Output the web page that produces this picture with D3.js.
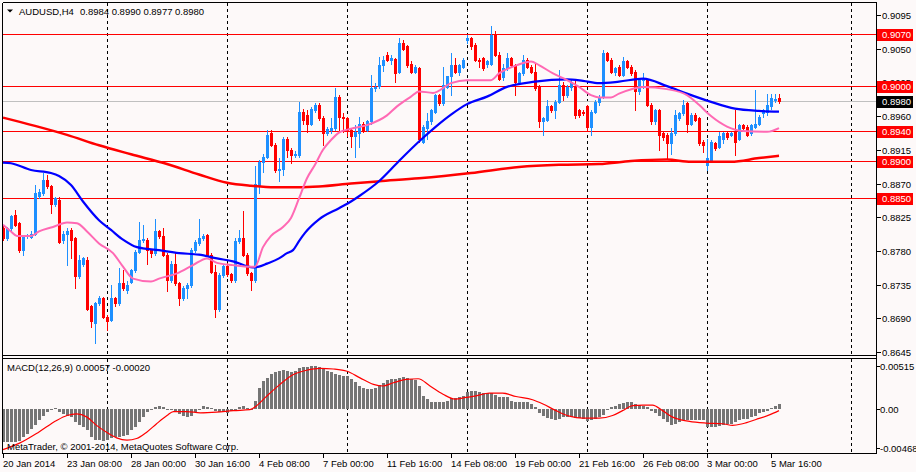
<!DOCTYPE html>
<html><head><meta charset="utf-8">
<script src="https://cdn.jsdelivr.net/npm/d3@7"></script>
<style>
html,body{margin:0;padding:0;background:#fff;}
svg{display:block;}
text{font-family:"Liberation Sans",Arial,sans-serif;font-size:9.5px;fill:#000;}
</style></head><body>
<svg id="c" width="916" height="472"></svg>
<script>
// ---- data ----
const symbolName = "AUDUSD,H4";
const headerValues = "0.8984 0.8990 0.8977 0.8980";
const open=[0.8811,0.8797,0.8810,0.8828,0.8817,0.8781,0.8800,0.8799,0.8803,0.8853,
0.8857,0.8875,0.8866,0.8843,0.8848,0.8794,0.8803,0.8808,0.8797,0.8746,
0.8763,0.8768,0.8706,0.8684,0.8710,0.8717,0.8692,0.8688,0.8717,0.8710,
0.8737,0.8728,0.8739,0.8754,0.8779,0.8795,0.8795,0.8781,0.8777,0.8806,
0.8800,0.8775,0.8741,0.8763,0.8737,0.8717,0.8730,0.8734,0.8781,0.8790,
0.8797,0.8801,0.8775,0.8752,0.8703,0.8748,0.8760,0.8749,0.8741,0.8793,
0.8797,0.8775,0.8750,0.8741,0.8868,0.8899,0.8906,0.8937,0.8922,0.8888,
0.8890,0.8930,0.8915,0.8908,0.8908,0.8966,0.8962,0.8950,0.8968,0.8975,
0.8957,0.8938,0.8941,0.8944,0.8986,0.8959,0.8957,0.8941,0.8933,0.8937,
0.8950,0.8942,0.8953,0.8997,0.9000,0.9028,0.9042,0.9035,0.9036,0.9019,
0.9057,0.9053,0.9030,0.9019,0.9024,0.8926,0.8944,0.8953,0.8966,0.8988,
0.8977,0.8999,0.9013,0.9028,0.9019,0.9026,0.9062,0.9064,0.9055,0.9035,
0.9037,0.9030,0.9030,0.9068,0.9042,0.9012,0.9024,0.9037,0.9028,0.9006,
0.9017,0.9035,0.9026,0.9019,0.8999,0.8953,0.8955,0.8973,0.8968,0.8979,
0.9002,0.8988,0.8999,0.9000,0.8968,0.8966,0.8973,0.8946,0.8966,0.8979,
0.8986,0.9044,0.9035,0.9019,0.9026,0.9015,0.9033,0.9026,0.9019,0.8993,
0.9008,0.9008,0.8975,0.8953,0.8968,0.8937,0.8935,0.8924,0.8937,0.8957,
0.8964,0.8977,0.8950,0.8962,0.8957,0.8926,0.8895,0.8901,0.8924,0.8919,
0.8930,0.8937,0.8935,0.8939,0.8930,0.8948,0.8946,0.8937,0.8946,0.8950,
0.8964,0.8966,0.8973,0.8982,0.8984];
const high=[0.8815,0.8812,0.8828,0.8835,0.8819,0.8801,0.8803,0.8806,0.8868,0.8862,
0.8884,0.8881,0.8868,0.8852,0.8852,0.8806,0.8810,0.8810,0.8799,0.8775,
0.8772,0.8772,0.8708,0.8712,0.8720,0.8719,0.8694,0.8734,0.8719,0.8757,
0.8754,0.8740,0.8756,0.8781,0.8819,0.8815,0.8797,0.8783,0.8823,0.8808,
0.8810,0.8777,0.8766,0.8777,0.8739,0.8733,0.8737,0.8784,0.8794,0.8822,
0.8803,0.8803,0.8777,0.8761,0.8750,0.8762,0.8764,0.8751,0.8797,0.8808,
0.8833,0.8777,0.8752,0.8893,0.8902,0.8910,0.8942,0.8942,0.8924,0.8904,
0.8932,0.8932,0.8917,0.8913,0.8979,0.8970,0.8968,0.8972,0.8977,0.8977,
0.8960,0.8946,0.8957,0.8997,0.8988,0.8964,0.8959,0.8944,0.8948,0.8959,
0.8952,0.8955,0.9015,0.9004,0.9039,0.9040,0.9046,0.9042,0.9038,0.9064,
0.9062,0.9055,0.9033,0.9028,0.9026,0.8948,0.8964,0.8970,0.8990,0.8990,
0.9026,0.9013,0.9044,0.9037,0.9030,0.9037,0.9068,0.9066,0.9057,0.9037,
0.9039,0.9035,0.9080,0.9073,0.9046,0.9030,0.9044,0.9039,0.9030,0.9019,
0.9042,0.9037,0.9028,0.9030,0.9002,0.8959,0.8981,0.8975,0.8981,0.9022,
0.9006,0.9002,0.9008,0.9008,0.8970,0.8968,0.8975,0.8968,0.8981,0.8988,
0.9048,0.9046,0.9037,0.9026,0.9028,0.9039,0.9035,0.9028,0.9021,0.9010,
0.9017,0.9010,0.8977,0.8970,0.8970,0.8939,0.8937,0.8944,0.8968,0.8966,
0.8981,0.8979,0.8964,0.8964,0.8959,0.8928,0.8930,0.8928,0.8926,0.8939,
0.8939,0.8939,0.8939,0.8968,0.8950,0.8950,0.8948,0.8950,0.8995,0.8962,
0.8970,0.8990,0.8990,0.8990,0.8990];
const low=[0.8794,0.8795,0.8808,0.8813,0.8779,0.8775,0.8797,0.8797,0.8801,0.8850,
0.8855,0.8864,0.8831,0.8840,0.8790,0.8790,0.8761,0.8770,0.8730,0.8744,
0.8760,0.8701,0.8679,0.8657,0.8708,0.8690,0.8674,0.8686,0.8706,0.8708,
0.8728,0.8724,0.8737,0.8752,0.8777,0.8792,0.8763,0.8772,0.8775,0.8797,
0.8773,0.8726,0.8739,0.8735,0.8708,0.8714,0.8717,0.8732,0.8779,0.8788,
0.8795,0.8773,0.8750,0.8692,0.8700,0.8745,0.8746,0.8738,0.8739,0.8790,
0.8773,0.8748,0.8728,0.8738,0.8857,0.8886,0.8904,0.8920,0.8886,0.8873,
0.8882,0.8906,0.8897,0.8905,0.8906,0.8950,0.8939,0.8948,0.8965,0.8955,
0.8922,0.8935,0.8938,0.8942,0.8941,0.8939,0.8933,0.8919,0.8906,0.8919,
0.8939,0.8940,0.8950,0.8993,0.8997,0.9020,0.9033,0.9030,0.9006,0.9017,
0.9048,0.9026,0.9017,0.9017,0.8926,0.8924,0.8930,0.8950,0.8964,0.8975,
0.8975,0.8997,0.8988,0.9017,0.9015,0.9024,0.9058,0.9050,0.9033,0.9026,
0.9022,0.9026,0.9028,0.9040,0.9008,0.9008,0.9022,0.9026,0.8988,0.9004,
0.9015,0.9024,0.9017,0.8995,0.8946,0.8935,0.8953,0.8966,0.8957,0.8977,
0.8981,0.8986,0.8995,0.8957,0.8959,0.8962,0.8941,0.8935,0.8964,0.8975,
0.8984,0.9033,0.9017,0.9015,0.9013,0.9013,0.9024,0.9015,0.8968,0.8990,
0.8997,0.8973,0.8950,0.8950,0.8915,0.8928,0.8904,0.8910,0.8935,0.8955,
0.8962,0.8939,0.8948,0.8953,0.8921,0.8912,0.8888,0.8899,0.8915,0.8917,
0.8924,0.8930,0.8933,0.8908,0.8928,0.8941,0.8933,0.8935,0.8944,0.8948,
0.8959,0.8962,0.8970,0.8979,0.8977];
const close=[0.8797,0.8810,0.8826,0.8815,0.8781,0.8799,0.8801,0.8803,0.8857,0.8859,
0.8875,0.8866,0.8843,0.8850,0.8792,0.8803,0.8807,0.8795,0.8746,0.8768,
0.8770,0.8703,0.8686,0.8710,0.8717,0.8692,0.8686,0.8717,0.8710,0.8737,
0.8730,0.8735,0.8754,0.8779,0.8795,0.8796,0.8781,0.8777,0.8806,0.8800,
0.8775,0.8741,0.8763,0.8737,0.8717,0.8730,0.8734,0.8781,0.8792,0.8797,
0.8800,0.8775,0.8752,0.8703,0.8748,0.8760,0.8749,0.8741,0.8793,0.8797,
0.8775,0.8750,0.8741,0.8870,0.8899,0.8906,0.8935,0.8922,0.8888,0.8890,
0.8930,0.8915,0.8908,0.8909,0.8966,0.8955,0.8950,0.8970,0.8975,0.8957,
0.8938,0.8943,0.8944,0.8986,0.8959,0.8957,0.8940,0.8933,0.8939,0.8950,
0.8942,0.8953,0.8997,0.8999,0.9028,0.9035,0.9035,0.9038,0.9017,0.9057,
0.9050,0.9028,0.9019,0.9026,0.8930,0.8946,0.8953,0.8968,0.8988,0.8977,
0.9002,0.9013,0.9028,0.9019,0.9028,0.9035,0.9064,0.9053,0.9035,0.9033,
0.9024,0.9033,0.9068,0.9042,0.9010,0.9024,0.9037,0.9028,0.9006,0.9017,
0.9035,0.9026,0.9019,0.8997,0.8953,0.8957,0.8973,0.8968,0.8979,0.9002,
0.8988,0.8999,0.9006,0.8962,0.8962,0.8964,0.8946,0.8966,0.8979,0.8986,
0.9044,0.9035,0.9019,0.9024,0.9015,0.9033,0.9026,0.9017,0.8993,0.9008,
0.9009,0.8975,0.8953,0.8968,0.8935,0.8932,0.8924,0.8937,0.8962,0.8964,
0.8975,0.8950,0.8962,0.8955,0.8924,0.8921,0.8904,0.8926,0.8917,0.8933,
0.8937,0.8932,0.8937,0.8926,0.8948,0.8944,0.8935,0.8948,0.8950,0.8959,
0.8968,0.8975,0.8984,0.8983,0.8980];
// moving averages read at selected bars: [bar index, price]
const maSlow=[[0,0.8958],[8,0.8947],[16,0.8935],[24,0.8921],[32,0.8909],[41,0.8896],[49,0.8882],[56,0.8871],[62,0.8867],[68,0.8865],[74,0.8865],[79,0.8866],[87,0.8870],[94,0.8873],[104,0.8877],[117,0.8884],[129,0.8892],[139,0.8895],[149,0.8896],[157,0.8900],[166,0.8902],[172,0.8899],[182,0.8899],[189,0.8904],[194,0.8907]];
const maMid=[[0,0.8898],[2,0.8897],[7,0.8888],[12,0.8884],[14,0.8880],[17,0.8868],[20,0.8846],[24,0.8821],[27,0.8808],[30,0.8795],[33.5,0.8785],[39,0.8781],[44,0.8777],[49,0.8775],[53.5,0.8770],[57.5,0.8766],[62.5,0.8758],[64,0.8759],[66,0.8763],[69,0.8770],[71,0.8777],[72.5,0.8781],[74,0.8793],[75.5,0.8804],[79,0.8822],[84,0.8837],[87,0.8846],[89,0.8853],[94,0.8873],[99,0.8900],[104,0.8926],[108,0.8945],[112,0.8962],[116,0.8976],[121,0.8986],[126,0.8999],[133,0.9006],[141,0.9009],[145,0.9007],[149,0.9004],[154,0.9006],[160,0.9010],[166,0.9000],[171,0.8990],[177,0.8979],[183,0.8970],[189,0.8967],[194,0.8966]];
const maFast=[[0,0.8815],[2,0.8806],[3.5,0.8800],[7,0.8800],[9,0.8806],[12.5,0.8812],[16,0.8818],[18.5,0.8817],[21,0.8806],[24,0.8790],[27.5,0.8777],[30,0.8759],[32.5,0.8743],[37,0.8739],[39,0.8743],[43.5,0.8750],[47.5,0.8761],[51,0.8770],[53.5,0.8764],[57.5,0.8761],[62,0.8759],[63,0.8759],[65,0.8785],[67,0.8800],[70,0.8812],[72,0.8824],[74,0.8850],[76,0.8877],[78,0.8895],[80,0.8915],[82,0.8928],[84,0.8938],[87,0.8943],[91,0.8948],[96,0.8961],[98.5,0.8973],[102,0.8986],[104,0.8993],[107.5,0.8991],[112,0.9004],[116,0.9008],[122,0.9008],[124,0.9017],[128.5,0.9028],[132,0.9033],[134,0.9028],[137.5,0.9017],[141,0.9008],[144,0.8999],[147,0.8988],[149,0.8985],[152,0.8985],[154,0.8990],[160,0.8999],[166,0.8996],[171,0.8988],[174,0.8975],[177,0.8960],[181,0.8946],[185,0.8940],[191,0.8939],[194,0.8944]];
// MACD(12,26,9) main values per bar
const macdMain=[-0.00401,-0.00401,-0.00401,-0.00401,-0.00385,-0.00334,-0.00295,-0.00244,-0.00197,-0.00138,
-0.00079,-0.00031,-0.00008,0.00008,-0.00039,-0.00059,-0.00079,-0.00098,-0.00157,-0.00197,
-0.00216,-0.00255,-0.00334,-0.00373,-0.00373,-0.00385,-0.00373,-0.00346,-0.00334,-0.00334,
-0.00326,-0.00314,-0.00255,-0.00216,-0.00157,-0.00098,-0.00039,-0.00008,0.00020,0.00031,
0.00020,0.00000,-0.00008,-0.00031,-0.00059,-0.00079,-0.00098,-0.00079,-0.00031,-0.00008,
0.00031,0.00028,0.00008,-0.00020,-0.00039,-0.00039,-0.00047,-0.00020,0.00000,0.00020,
0.00031,0.00008,0.00000,0.00098,0.00255,0.00334,0.00373,0.00424,0.00440,0.00452,
0.00464,0.00452,0.00440,0.00452,0.00491,0.00499,0.00503,0.00511,0.00519,0.00503,
0.00479,0.00452,0.00440,0.00424,0.00413,0.00401,0.00393,0.00362,0.00322,0.00275,
0.00255,0.00236,0.00236,0.00255,0.00283,0.00314,0.00346,0.00362,0.00362,0.00373,
0.00385,0.00373,0.00362,0.00346,0.00275,0.00157,0.00118,0.00086,0.00079,0.00079,
0.00079,0.00098,0.00126,0.00126,0.00138,0.00157,0.00204,0.00216,0.00216,0.00204,
0.00189,0.00189,0.00189,0.00165,0.00149,0.00138,0.00138,0.00098,0.00079,0.00079,
0.00079,0.00079,0.00059,0.00020,-0.00047,-0.00086,-0.00110,-0.00126,-0.00138,-0.00118,
-0.00098,-0.00098,-0.00098,-0.00110,-0.00110,-0.00118,-0.00149,-0.00138,-0.00118,-0.00098,
-0.00071,-0.00008,0.00020,0.00039,0.00059,0.00071,0.00086,0.00086,0.00059,0.00047,
0.00039,0.00020,-0.00020,-0.00047,-0.00079,-0.00126,-0.00157,-0.00189,-0.00177,-0.00157,
-0.00138,-0.00138,-0.00138,-0.00138,-0.00138,-0.00138,-0.00216,-0.00216,-0.00216,-0.00208,
-0.00197,-0.00177,-0.00177,-0.00157,-0.00138,-0.00126,-0.00118,-0.00098,-0.00079,-0.00047,
-0.00031,-0.00020,0.00008,0.00039,0.00057];
// MACD signal read at selected bars: [bar index, value]
const macdSignal=[[0,-0.00488],[4,-0.00413],[9,-0.00275],[13.4,-0.00138],[16,-0.00079],[18.4,-0.00059],[21,-0.00098],[23.4,-0.00197],[26,-0.00283],[28.4,-0.00346],[31,-0.00373],[33.4,-0.00354],[36,-0.00275],[38.4,-0.00177],[41,-0.00079],[42.6,-0.00031],[46,-0.00031],[49.3,-0.00047],[53.4,-0.00039],[57.6,-0.00020],[61.75,-0.00008],[63.4,0.00039],[66,0.00157],[69.25,0.00295],[72.6,0.00413],[75.9,0.00464],[79.25,0.00487],[82.6,0.00479],[86,0.00452],[89.25,0.00373],[92.6,0.00295],[95,0.00275],[97.6,0.00314],[100.9,0.00354],[103.8,0.00362],[106.75,0.00275],[110,0.00177],[113,0.00118],[115.75,0.00138],[118.25,0.00157],[121.6,0.00189],[124.9,0.00189],[128.25,0.00149],[132.4,0.00110],[135,0.00059],[138.25,-0.00020],[141.6,-0.00086],[144.9,-0.00110],[149.1,-0.00110],[152.4,-0.00079],[154.9,-0.00020],[157.4,0.00039],[159.9,0.00047],[162.4,0.00047],[164.9,-0.00020],[167.4,-0.00098],[171.6,-0.00149],[175.75,-0.00169],[179.9,-0.00177],[182.4,-0.00197],[184.9,-0.00177],[188.25,-0.00126],[191.6,-0.00071],[194,-0.00020]];
const macdTitle="MACD(12,26,9) 0.00057 -0.00020";
const copyright="MetaTrader, \u00a9 2001-2014, MetaQuotes Software Corp.";
const priceTicks=[0.9095,0.9050,0.9005,0.8960,0.8915,0.8870,0.8825,0.8780,0.8735,0.8690,0.8645];
const levelLines=[0.9070,0.9000,0.8940,0.8900,0.8850];
const bidPrice=0.8980;
const macdTicks=[0.00515,0,-0.00468];
const macdTickLabels=["0.00515","0.00","-0.00468"];
const timeLabelIdx=[0,16,32,48,64,80,96,112,128,144,160,176,192];
const timeLabels=["20 Jan 2014","23 Jan 08:00","28 Jan 00:00","30 Jan 16:00","4 Feb 08:00","7 Feb 00:00","11 Feb 16:00","14 Feb 08:00","19 Feb 00:00","21 Feb 16:00","26 Feb 08:00","3 Mar 00:00","5 Mar 16:00"];
const gridIdx=[26,56,86,116,146,176,212];

// ---- drawing ----
const svg=d3.select("#c");
const W=916,H=472;
const L=2.5,R=876.5,T=2.5,MB=355.5,MT=358.5,BB=453.5;
svg.append("rect").attr("width",W).attr("height",H).attr("fill","#fdf9f9");

const x=d3.scaleLinear().domain([0,218]).range([3,875]);
const y=d3.scaleLinear().domain([0.8645,0.9095]).range([352,15]);
const ym=d3.scaleLinear().domain([-0.00468,0.00515]).range([448,366]);
const px=i=>Math.round(x(i));

const crisp=svg.append("g").attr("shape-rendering","crispEdges");

// grid (dashed verticals)
gridIdx.forEach(g=>{
  const gx=px(g)+0.5;
  crisp.append("line").attr("x1",gx).attr("x2",gx).attr("y1",T).attr("y2",MB)
    .attr("stroke","#000").attr("stroke-dasharray","3,3");
  crisp.append("line").attr("x1",gx).attr("x2",gx).attr("y1",MT).attr("y2",BB)
    .attr("stroke","#000").attr("stroke-dasharray","3,3");
});

// bid line + level lines
crisp.append("line").attr("x1",L).attr("x2",R).attr("y1",Math.round(y(bidPrice))+0.5).attr("y2",Math.round(y(bidPrice))+0.5)
  .attr("stroke","#c0c0c0");
levelLines.forEach(v=>{
  const ly=Math.round(y(v))+0.5;
  crisp.append("line").attr("x1",L).attr("x2",R).attr("y1",ly).attr("y2",ly).attr("stroke","#ff0000");
});

// candles
const cg=crisp.append("g");
open.forEach((o,i)=>{
  const c=close[i],h=high[i],l=low[i];
  const col=c>=o?"#1e90ff":"#ff0000";
  const cx=px(i);
  const yh=Math.round(y(h)),yl=Math.round(y(l));
  cg.append("rect").attr("x",cx).attr("y",yh).attr("width",1).attr("height",Math.max(1,yl-yh+1)).attr("fill",col);
  const yt=Math.round(y(Math.max(o,c))),yb=Math.round(y(Math.min(o,c)));
  cg.append("rect").attr("x",cx-1).attr("y",yt).attr("width",3).attr("height",Math.max(1,yb-yt+1)).attr("fill",col);
});

// moving averages
const line=d3.line().x(d=>x(d[0])).y(d=>y(d[1])).curve(d3.curveMonotoneX);
svg.append("path").attr("d",line(maSlow)).attr("fill","none").attr("stroke","#ff0000").attr("stroke-width",2.5);
svg.append("path").attr("d",line(maMid)).attr("fill","none").attr("stroke","#0000ff").attr("stroke-width",2.2);
svg.append("path").attr("d",line(maFast)).attr("fill","none").attr("stroke","#ff69b4").attr("stroke-width",2);

// MACD histogram
const z=Math.round(ym(0));
macdMain.forEach((v,i)=>{
  const vy=Math.round(ym(v));
  const top=Math.min(vy,z),hgt=Math.max(1,Math.abs(vy-z));
  crisp.append("rect").attr("x",px(i)-1).attr("y",top).attr("width",3).attr("height",hgt).attr("fill","#757575");
});
const sline=d3.line().x(d=>x(d[0])).y(d=>ym(d[1])).curve(d3.curveMonotoneX);
svg.append("path").attr("d",sline(macdSignal)).attr("fill","none").attr("stroke","#ff0000").attr("stroke-width",1.2);

// frames
const fr=svg.append("g").attr("shape-rendering","crispEdges").attr("stroke","#000").attr("fill","none");
fr.append("line").attr("x1",L).attr("x2",R).attr("y1",T).attr("y2",T);
fr.append("line").attr("x1",L).attr("x2",L).attr("y1",T).attr("y2",BB);
fr.append("line").attr("x1",R).attr("x2",R).attr("y1",T).attr("y2",BB);
fr.append("line").attr("x1",L).attr("x2",R).attr("y1",MB).attr("y2",MB);
fr.append("line").attr("x1",L).attr("x2",R).attr("y1",MT).attr("y2",MT);
fr.append("line").attr("x1",L).attr("x2",R).attr("y1",BB).attr("y2",BB);

// price axis
priceTicks.forEach(v=>{
  const ty=Math.round(y(v))+0.5;
  fr.append("line").attr("x1",R).attr("x2",R+4).attr("y1",ty).attr("y2",ty);
  svg.append("text").attr("x",882).attr("y",ty+3.5).text(v.toFixed(4));
});
levelLines.forEach(v=>{
  const ly=Math.round(y(v));
  svg.append("rect").attr("x",877).attr("y",ly-5).attr("width",36).attr("height",12).attr("fill","#ff0000");
  svg.append("text").attr("x",882).attr("y",ly+4).style("fill","#fff").text(v.toFixed(4));
});
{
  const by=Math.round(y(bidPrice));
  svg.append("rect").attr("x",877).attr("y",by-5).attr("width",36).attr("height",12).attr("fill","#000");
  svg.append("text").attr("x",882).attr("y",by+4).style("fill","#fff").text(bidPrice.toFixed(4));
}
// MACD axis
macdTicks.forEach((v,k)=>{
  const ty=Math.round(ym(v))+0.5;
  fr.append("line").attr("x1",R).attr("x2",R+3).attr("y1",ty).attr("y2",ty);
  svg.append("text").attr("x",880).attr("y",ty+3.5).text(macdTickLabels[k]);
});

// time axis
timeLabelIdx.forEach((t,k)=>{
  const tx=px(t)+0.5;
  fr.append("line").attr("x1",tx).attr("x2",tx).attr("y1",BB).attr("y2",BB+4);
  svg.append("text").attr("x",px(t)).attr("y",467).text(timeLabels[k]);
});

// titles
svg.append("path").attr("d","M7,9.5 L13,9.5 L10,12.5 Z").attr("fill","#000");
svg.append("text").attr("x",19).attr("y",15).text(symbolName);
svg.append("text").attr("x",80).attr("y",15).text(headerValues);
svg.append("text").attr("x",7).attr("y",371).text(macdTitle);
svg.append("text").attr("x",7).attr("y",450).text(copyright);
</script>
</body></html>
